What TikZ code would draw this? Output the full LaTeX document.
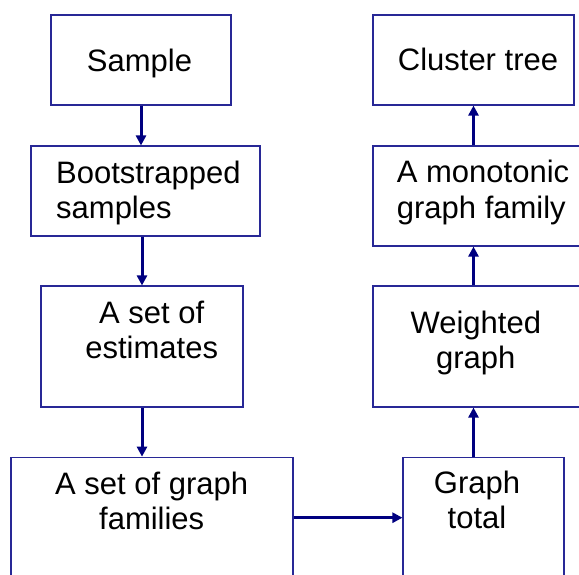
\documentclass[tikz,border=0pt]{standalone}
\usepackage{fontspec}
\setmainfont{Liberation Sans}
\usepackage{xcolor}
\usetikzlibrary{arrows.meta,positioning}
\definecolor{boxblue}{RGB}{40,40,150}
\definecolor{arrowblue}{RGB}{0,0,128}

\begin{document}
\begin{tikzpicture}[x=1pt, y=-1pt, every node/.style={font=\fontsize{31}{35.5}\selectfont}]
\tikzstyle{box} = [rectangle, draw=boxblue, line width=1.1pt, inner sep=0pt]
\tikzstyle{txt} = [inner sep=0pt, align=center]
\tikzstyle{arrow} = [line width=3pt, draw=arrowblue, -{Triangle[length=10pt,width=10pt]}]

\useasboundingbox (0,0) rectangle (579,574);
\clip (0,0) rectangle (579,574);

% left column
\node (sample) [box, minimum width=180pt, minimum height=90pt] at (141,60) {};
\node (boot) [box, minimum width=229pt, minimum height=90pt] at (145.5,191) {};
\node (est) [box, minimum width=202pt, minimum height=121pt] at (142,346.5) {};
\node (fam) [box, minimum width=282pt, minimum height=121pt] at (152,517.7) {};

% right column
\node (tree) [box, minimum width=201pt, minimum height=90pt] at (473.5,60) {};
\node (mono) [box, minimum width=220pt, minimum height=100pt] at (483,196) {};
\node (weighted) [box, minimum width=220pt, minimum height=121pt] at (483,346.5) {};
\node (total) [box, minimum width=161pt, minimum height=121pt] at (483.5,517.7) {};

% texts
\node (sampleTxt) [txt] at (139.5,63.9) {Sample};
\node (bootTxt) [txt, align=left, anchor=west] at (56,193.2) {Bootstrapped\\samples};
\node (estTxt) [txt] at (151.7,329.8) {A set of\\estimates};
\node (famTxt) [txt] at (151.7,500.7) {A set of graph\\families};
\node (treeTxt) [txt] at (478,59.6) {Cluster tree};
\node (monoTxt) [txt, align=left, anchor=west] at (396.7,192.6) {A monotonic\\graph family};
\node (weightedTxt) [txt] at (475.8,343.2) {Weighted\\graph};
\node (totalTxt) [txt] at (477,500) {Graph\\total};

% connectors
\draw[arrow] (sample.south) -- (sample.south |- boot.north);
\draw[arrow] (est.north |- boot.south) -- (est.north);
\draw[arrow] (est.south) -- (est.south |- fam.north);
\draw[arrow] (fam.east) -- (total.west);
\draw[arrow] (tree.center |- total.north) -- (tree.center |- weighted.south);
\draw[arrow] (tree.center |- weighted.north) -- (tree.center |- mono.south);
\draw[arrow] (tree.center |- mono.north) -- (tree.south);
\end{tikzpicture}
\end{document}
